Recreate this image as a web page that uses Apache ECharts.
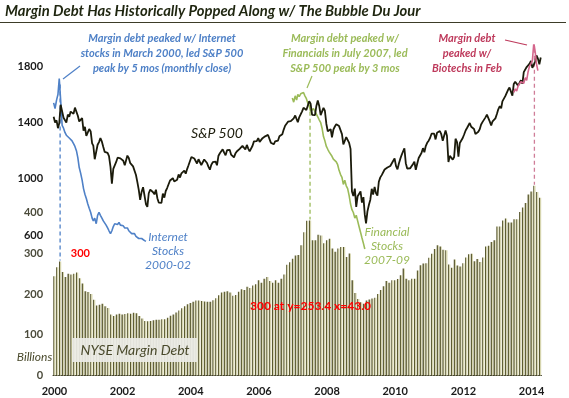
<!DOCTYPE html>
<html>
<head>
<meta charset="utf-8">
<title>Margin Debt Has Historically Popped Along w/ The Bubble Du Jour</title>
<script src="https://cdn.jsdelivr.net/npm/echarts@6/dist/echarts.min.js"></script>
<style>
html, body { margin: 0; padding: 0; background: #fff; }
#chart { width: 569px; height: 398px; }
</style>
</head>
<body>
<div id="chart"></div>
<script>
// NYSE margin debt, $ billions, monthly Jan 2000 - Apr 2014
const marginDebt = [
  244, 266, 280, 254, 242, 250, 248, 250, 253, 239, 226, 207, // 2000
  205, 200, 186, 172, 174, 176, 170, 166, 150, 146, 150, 152, // 2001
  150, 151, 153, 152, 154, 153, 146, 140, 134, 133, 134, 136, // 2002
  137, 137, 138, 138, 142, 147, 150, 155, 160, 165, 170, 175, // 2003
  178, 181, 184, 184, 183, 182, 181, 181, 185, 190, 197, 204, // 2004
  206, 207, 204, 196, 198, 206, 212, 210, 218, 215, 221, 224, // 2005
  234, 228, 238, 242, 232, 228, 234, 228, 238, 248, 272, 278, // 2006
  287, 295, 296, 320, 352, 380, 381, 332, 332, 346, 344, 325, // 2007
  332, 336, 312, 304, 312, 316, 316, 291, 300, 234, 203, 188, // 2008
  180, 176, 184, 187, 189, 191, 200, 210, 219, 232, 228, 234, // 2009
  234, 237, 246, 263, 238, 234, 238, 238, 258, 271, 275, 276, // 2010
  289, 299, 311, 320, 317, 309, 308, 273, 265, 285, 270, 268, // 2011
  276, 290, 298, 299, 281, 286, 279, 290, 317, 319, 328, 332, // 2012
  366, 366, 381, 386, 376, 376, 384, 384, 402, 413, 424, 445, // 2013
  452, 466, 451, 437                                          // 2014
];

// S&P 500, two readings a month (about the 8th and the 23rd)
const spx = [
  1441,1401, 1416,1360, 1395,1527, 1516,1434, 1424,1400, 1457,1441, 1478,1480, 1462,1506, 1495,1448, 1408,1395, 1432,1342, 1369,1305,
  1295,1354, 1336,1252, 1236,1139, 1128,1242, 1261,1289, 1264,1226, 1191,1192, 1184,1162, 1085,966, 1071,1079, 1120,1150, 1138,1145,
  1157,1128, 1096,1089, 1165,1148, 1111,1100, 1088,1086, 1027,976, 921,850, 908,940, 879,819, 800,897, 923,930, 904,889,
  922,862, 830,838, 829,895, 866,913, 934,933, 988,995, 1004,981, 977,993, 1031,1009, 1039,1034, 1058,1036, 1069,1096,
  1126,1155, 1143,1144, 1140,1109, 1139,1140, 1098,1094, 1137,1144, 1112,1086, 1065,1099, 1118,1110, 1122,1096, 1164,1182, 1189,1210,
  1186,1167, 1203,1190, 1206,1172, 1181,1152, 1179,1194, 1200,1213, 1211,1234, 1231,1208, 1241,1215, 1195,1199, 1235,1266, 1259,1268,
  1290,1263, 1265,1289, 1275,1302, 1295,1312, 1321,1257, 1252,1245, 1266,1260, 1272,1302, 1298,1317, 1350,1377, 1382,1406, 1409,1410,
  1412,1430, 1450,1459, 1402,1437, 1445,1480, 1505,1515, 1490,1502, 1552,1535, 1455,1463, 1453,1518, 1557,1520, 1453,1440, 1504,1484,
  1390,1338, 1331,1353, 1294,1349, 1372,1388, 1389,1375, 1361,1318, 1244,1257, 1296,1292, 1255,1213, 909,877, 930,800, 876,888,
  910,831, 869,743, 683,768, 815,851, 929,888, 942,896, 880,979, 1010,1026, 1025,1066, 1065,1080, 1069,1091, 1102,1126,
  1144,1092, 1067,1109, 1138,1167, 1194,1217, 1111,1073, 1064,1074, 1078,1103, 1121,1064, 1109,1148, 1166,1183, 1218,1189, 1233,1256,
  1271,1290, 1321,1315, 1321,1280, 1328,1337, 1340,1317, 1271,1268, 1344,1306, 1119,1163, 1154,1136, 1155,1285, 1261,1158, 1255,1265,
  1290,1315, 1344,1361, 1370,1397, 1370,1366, 1354,1318, 1325,1335, 1352,1386, 1405,1412, 1437,1456, 1461,1408, 1380,1409, 1418,1430,
  1461,1494, 1517,1502, 1551,1556, 1588,1578, 1633,1649, 1643,1592, 1675,1690, 1697,1663, 1683,1701, 1676,1759, 1770,1795, 1805,1818,
  1838,1790, 1797,1836, 1878,1857, 1815,1863
];

// sector overlays, rescaled onto the S&P axis, two readings a month
const internetStart = '2000-01';
const internetIdx = [
  1540,1500, 1560,1600, 1713,1560, 1380,1360, 1330,1310, 1320,1290, 1300,1270, 1250,1230, 1200,1150, 1080,1040, 990,930, 890,860,
  820,790, 760,720, 700,720, 680,740, 762,740, 720,700, 690,670, 650,630, 610,630, 660,680, 685,675, 690,670,
  660,665, 650,640, 650,630, 620,610, 600,610, 590,580, 575,570, 575,565, 560,555
];
const financialsStart = '2007-01';
const financialsIdx = [
  1575,1545, 1590,1560, 1600,1585, 1605,1600, 1614,1590, 1570,1540, 1520,1480, 1470,1500, 1480,1460, 1440,1420, 1400,1360, 1300,1270,
  1230,1210, 1190,1200, 1160,1140, 1150,1120, 1100,1060, 1030,1010, 960,990, 950,930, 880,820, 780,760, 720,740, 700,660,
  620,580, 540,500
];
const biotechStart = '2013-07';
const biotechIdx = [
  1614,1640, 1625,1660, 1650,1690, 1700,1680, 1720,1700, 1760,1800, 1820,1840, 1968,1900, 1820,1770
];

// months where margin debt topped out
const peakMonths = ['2000-03', '2007-07', '2014-02'];

const yearLabels = ['2000', '2002', '2004', '2006', '2008', '2010', '2012', '2014'];
const debtTicks = [0, 100, 200, 300, 400];
const spxTicks = [600, 1000, 1400, 1800];

const blue = '#4f81c7';
const green = '#9bbb59';
const red = '#be3a5c';
const pink = '#d4668c';
const ink = '#1b1b0b';
const olive = '#4a4a2c';

const months = [];
for (let y = 2000; y <= 2014; y++) {
  for (let m = 1; m <= 12; m++) {
    if (months.length < marginDebt.length) months.push(y + '-' + String(m).padStart(2, '0'));
  }
}
const halfMonths = [];
months.forEach(function (m) { halfMonths.push(m + '-08', m + '-23'); });

function onDates(startMonth, values) {
  const s = halfMonths.indexOf(startMonth + '-08');
  return values.map(function (v, i) { return [halfMonths[s + i], v]; });
}

const chart = echarts.init(document.getElementById('chart'));
const yearTick = function (i) { return yearLabels.indexOf(months[i].slice(0, 4)) >= 0 && months[i].slice(5) === '01'; };

chart.setOption({
  animation: false,
  backgroundColor: '#fff',
  grid: { left: 53, right: 27.5, top: 45, bottom: 22.5 },
  xAxis: [{
    type: 'category',
    data: months,
    boundaryGap: true,
    axisLine: { lineStyle: { color: '#3a3a2a', width: 1 } },
    axisTick: { interval: yearTick, length: 4, lineStyle: { color: '#3a3a2a' } },
    axisLabel: {
      interval: yearTick,
      formatter: function (v) { return v.slice(0, 4); },
      color: '#1a1a1a', fontFamily: 'Lato', fontWeight: 'bold', fontSize: 11, margin: 10
    },
    splitLine: { show: false }
  }, {
    type: 'time',
    show: false,
    min: '2000-01-01',
    max: '2014-05-01'
  }],
  yAxis: [{
    type: 'value',
    min: 0, max: 812, interval: 100,
    axisLine: { show: false }, axisTick: { show: false }, splitLine: { show: false },
    axisLabel: { show: false }
  }, {
    type: 'value',
    position: 'left',
    min: -400, max: 1952, interval: 200,
    axisLine: { show: false }, axisTick: { show: false }, splitLine: { show: false },
    axisLabel: { show: false }
  }],
  series: [{
    name: 'NYSE Margin Debt',
    type: 'bar',
    xAxisIndex: 0, yAxisIndex: 0,
    data: marginDebt,
    barCategoryGap: '22%',
    itemStyle: {
      color: new echarts.graphic.LinearGradient(0, 0, 1, 0, [
        { offset: 0, color: '#4b4a22' },
        { offset: 0.45, color: '#6a6940' },
        { offset: 0.55, color: '#d6d5ae' },
        { offset: 1, color: '#d6d5ae' }
      ])
    },
    z: 1
  }, {
    name: 'S&P 500',
    type: 'line',
    xAxisIndex: 1, yAxisIndex: 1,
    data: onDates('2000-01', spx),
    showSymbol: false,
    lineStyle: { color: ink, width: 1.8 },
    z: 4
  }, {
    name: 'Internet Stocks',
    type: 'line',
    xAxisIndex: 1, yAxisIndex: 1,
    data: onDates(internetStart, internetIdx),
    showSymbol: false,
    lineStyle: { color: blue, width: 1.6 },
    z: 3
  }, {
    name: 'Financial Stocks',
    type: 'line',
    xAxisIndex: 1, yAxisIndex: 1,
    data: onDates(financialsStart, financialsIdx),
    showSymbol: false,
    lineStyle: { color: green, width: 1.6 },
    z: 3
  }, {
    name: 'Biotechs',
    type: 'line',
    xAxisIndex: 1, yAxisIndex: 1,
    data: onDates(biotechStart, biotechIdx),
    showSymbol: false,
    lineStyle: { color: pink, width: 1.6 },
    z: 5
  }]
});

// tick labels of both value axes, positioned through the axes themselves
const labelRight = chart.convertToPixel({ xAxisIndex: 0 }, 0) - 11.4;
function tickLabel(v, axis, color) {
  return {
    id: 'tick-' + axis + '-' + v,
    type: 'text', x: labelRight, y: chart.convertToPixel({ yAxisIndex: axis }, v), zlevel: 5, z: 30, silent: true,
    style: { text: String(v), fill: color, font: 'bold 11px Lato', align: 'right', verticalAlign: 'middle' }
  };
}
const axisLabels = debtTicks.map(function (v) { return tickLabel(v, 0, '#4a4a3a'); })
  .concat(spxTicks.map(function (v) { return tickLabel(v, 1, '#1a1a1a'); }));

// temporary check: where does the 300 label go?
const probeY = chart.convertToPixel({ yAxisIndex: 0 }, 300);
axisLabels.push({
  id: 'probe', type: 'text', x: 250, y: 300, zlevel: 5, z: 40,
  style: { text: '300 at y=' + (typeof probeY === 'number' ? probeY.toFixed(1) : JSON.stringify(probeY)) + ' x=' + labelRight.toFixed(1), fill: 'red', font: 'bold 12px Lato' }
});
axisLabels.push({
  id: 'probe2', type: 'text', x: 90, y: probeY, zlevel: 5, z: 40,
  style: { text: '300', fill: 'red', font: 'bold 11px Lato', align: 'right', verticalAlign: 'middle' }
});

// dashed drop lines from the sector peak to the margin debt bar of that month
const overlays = [
  { start: internetStart, vals: internetIdx, color: blue },
  { start: financialsStart, vals: financialsIdx, color: green },
  { start: biotechStart, vals: biotechIdx, color: '#cf7d98' }
];
const dropLines = peakMonths.map(function (m, k) {
  const o = overlays[k];
  const s = halfMonths.indexOf(o.start + '-08');
  const j = halfMonths.indexOf(m + '-08') - s;
  const top = Math.max(o.vals[j], o.vals[j + 1]);
  const i = months.indexOf(m);
  const pBar = chart.convertToPixel({ xAxisIndex: 0, yAxisIndex: 0 }, [i, marginDebt[i]]);
  const pTop = chart.convertToPixel({ xAxisIndex: 1, yAxisIndex: 1 }, [m + '-15', top]);
  return {
    type: 'line', z: 2, silent: true,
    shape: { x1: pBar[0], y1: pTop[1] + 6, x2: pBar[0], y2: pBar[1] - 1 },
    style: { stroke: o.color, lineWidth: 1.3, lineDash: [4, 3] }
  };
});

function note(text, x, y, color, font, lh) {
  return {
    type: 'text', x: x, y: y, z: 20, silent: true,
    style: { text: text, fill: color, font: font, align: 'center', verticalAlign: 'middle', lineHeight: lh || 15 }
  };
}
function stroke(x1, y1, x2, y2, color) {
  return { type: 'line', z: 20, silent: true, shape: { x1: x1, y1: y1, x2: x2, y2: y2 }, style: { stroke: color, lineWidth: 1.2 } };
}

const topFont = 'italic bold 11px Lato';
const lowFont = 'italic 12px Lato';

chart.setOption({
  graphic: dropLines.concat([
    {
      type: 'text', x: 5, y: 11.5, z: 20,
      style: {
        text: 'Margin Debt Has Historically Popped Along w/ The Bubble Du Jour',
        fill: '#1f2610', font: 'italic bold 14.8px Lato', align: 'left', verticalAlign: 'middle'
      }
    },
    stroke(0, 22.5, 566, 22.5, '#3c3c28'),
    note('Margin debt peaked w/ Internet\nstocks in March 2000, led S&P 500\npeak by 5 mos (monthly close)', 162, 53, blue, topFont),
    note('Margin debt peaked w/\nFinancials in July 2007, led\nS&P 500 peak by 3 mos', 345, 53, green, topFont),
    note('Margin debt\npeaked w/\nBiotechs in Feb', 467, 53, red, topFont),
    stroke(63, 79, 80, 66, blue),
    stroke(307, 88, 312, 76, green),
    stroke(505, 40, 527, 45, red),
    note('S&P 500', 217, 133, ink, 'italic 14px Lato'),
    note('Internet\nStocks\n2000-02', 168, 251, blue, lowFont, 14),
    note('Financial\nStocks\n2007-09', 387, 246.5, green, lowFont, 14),
    note('Billions', 34.5, 357, olive, 'italic 12px Lato'),
    {
      type: 'rect', z: 15, silent: true,
      shape: { x: 72, y: 338, width: 125, height: 24 },
      style: { fill: 'rgba(236,236,230,0.93)' }
    },
    note('NYSE Margin Debt', 135, 350.5, olive, 'italic 14px Lato')
  ], axisLabels)
});
</script>
</body>
</html>
